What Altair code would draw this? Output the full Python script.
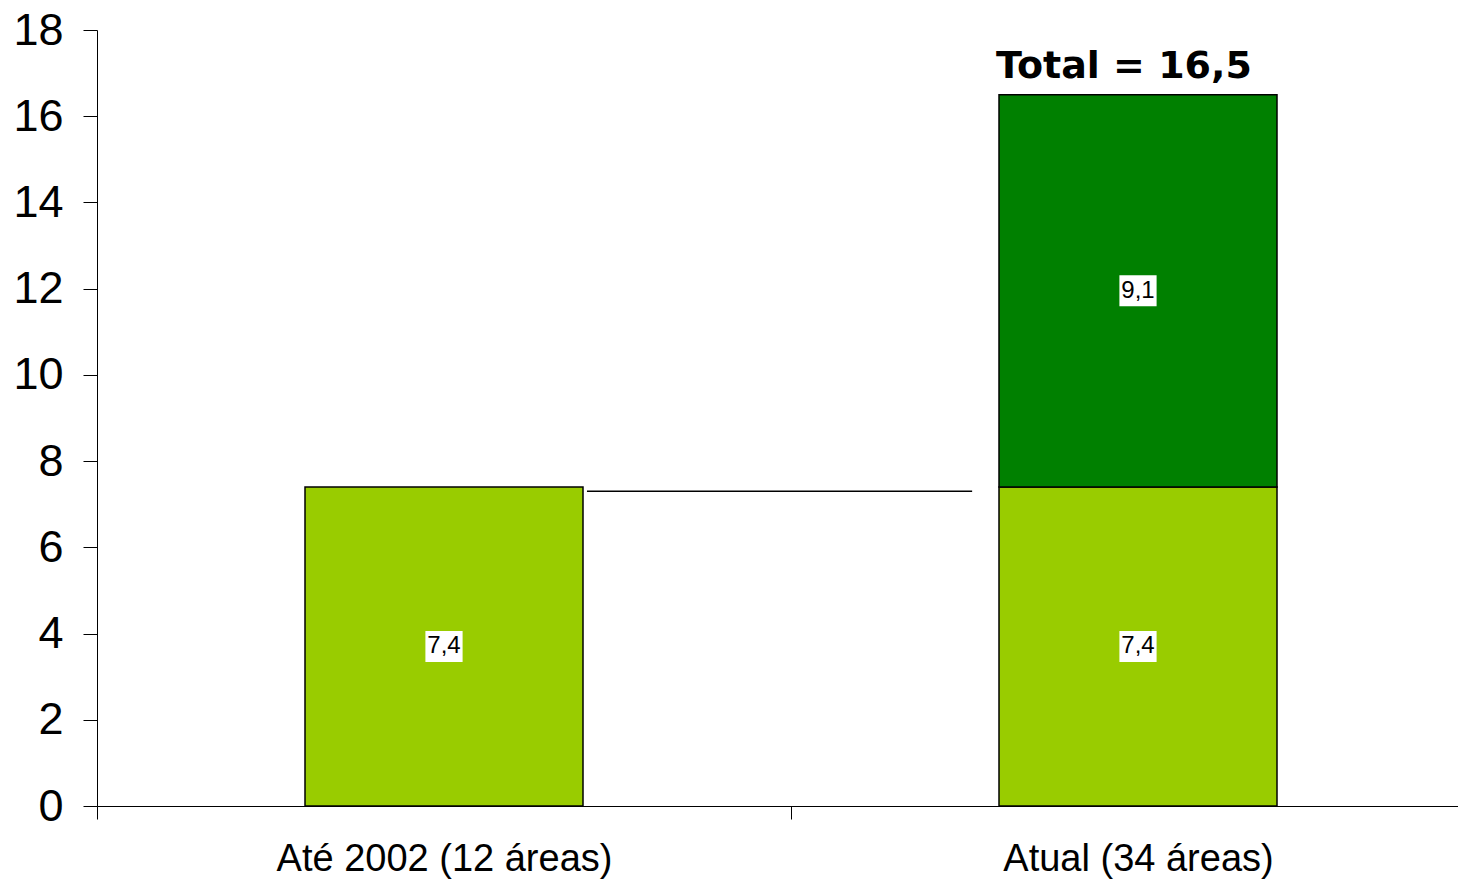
import altair as alt
import pandas as pd

categories = ["Até 2002 (12 áreas)", "Atual (34 áreas)"]
series = ["Áreas até 2002", "Novas áreas"]
base_values = [7.4, 7.4]
new_values = [0.0, 9.1]
colors = ["#99CC00", "#008000"]
connector_value = 7.3
y_ticks = list(range(0, 19, 2))

rows = []
for i, c in enumerate(categories):
    cum = 0.0
    for k, (s, vals) in enumerate(zip(series, [base_values, new_values])):
        v = vals[i]
        if v > 0:
            rows.append(dict(cat=c, series=s, value=v, order=k, mid=cum + v / 2,
                             label=f"{v:.1f}".replace(".", ",")))
        cum += v
df = pd.DataFrame(rows)

total = base_values[1] + new_values[1]
tot_df = pd.DataFrame({"cat": [categories[1]], "total": [total],
                       "label": ["Total = " + f"{total:.1f}".replace(".", ",")]})
conn_df = pd.DataFrame({"cat": [categories[0]], "cat2": [categories[1]], "y": [connector_value]})

xscale = alt.Scale(domain=categories, range=[0, 1388], paddingInner=0, paddingOuter=0)
yscale = alt.Scale(domain=[0, 18], nice=False)

xaxis = alt.Axis(title=None, labelAngle=0, tickBand="extent", labelFontSize=38,
                 labelFont="Liberation Sans", labelColor="black", tickSize=13,
                 labelPadding=21, labelLimit=2000, domainColor="black", tickColor="black",
                 grid=False)
yaxis = alt.Axis(title=None, values=y_ticks, labelFontSize=45, labelFont="Liberation Sans",
                 labelColor="black", tickSize=14, labelPadding=20, domainColor="black",
                 tickColor="black", grid=False)

bars = alt.Chart(df).mark_bar(size=278, stroke="black", strokeWidth=1.5).encode(
    x=alt.X("cat:N", scale=xscale, axis=xaxis, sort=categories),
    y=alt.Y("value:Q", stack="zero", scale=yscale, axis=yaxis),
    color=alt.Color("series:N", scale=alt.Scale(domain=series, range=colors), legend=None),
    order=alt.Order("order:Q"),
)

boxes = alt.Chart(df).mark_point(
    shape="M-1.2,-1L1.2,-1L1.2,1L-1.2,1Z", size=961, filled=True,
    color="white", opacity=1, strokeWidth=0
).encode(
    x=alt.X("cat:N", scale=xscale, sort=categories),
    y=alt.Y("mid:Q", scale=yscale),
)

labels = alt.Chart(df).mark_text(fontSize=24, font="Liberation Sans", color="black").encode(
    x=alt.X("cat:N", scale=xscale, sort=categories),
    y=alt.Y("mid:Q", scale=yscale),
    text="label:N",
)

total_text = alt.Chart(tot_df).mark_text(
    fontSize=38, font="DejaVu Sans", fontWeight="bold", color="black",
    baseline="alphabetic", dx=-14, dy=-17
).encode(
    x=alt.X("cat:N", scale=xscale, sort=categories),
    y=alt.Y("total:Q", scale=yscale),
    text="label:N",
)

connector = alt.Chart(conn_df).mark_rule(color="black", strokeWidth=1.5).encode(
    x=alt.X("cat:N", scale=xscale, sort=categories, bandPosition=0.706),
    x2=alt.X2("cat2:N", bandPosition=0.261),
    y=alt.Y("y:Q", scale=yscale),
)

chart = alt.layer(bars, connector, boxes, labels, total_text).properties(
    width=1361, height=776,
    autosize=alt.AutoSizeParams(type="none"),
    padding={"left": 89, "top": 22, "right": 0, "bottom": 76},
    background="white",
).configure_view(stroke=None)

chart.save("out.html", embed_options={"renderer": "svg", "actions": False})
